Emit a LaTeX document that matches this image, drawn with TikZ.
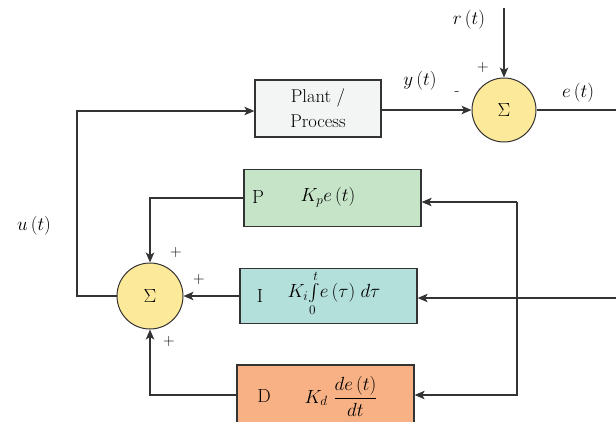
\documentclass[tikz,border=0pt]{standalone}
\usepackage{fix-cm}
\usepackage{exscale}
\usepackage{fontspec}
\usetikzlibrary{arrows.meta}
\definecolor{linec}{HTML}{333333}
\definecolor{plantc}{HTML}{F3F5F4}
\definecolor{sumc}{HTML}{FDE99A}
\definecolor{pc}{HTML}{C6E4C8}
\definecolor{ic}{HTML}{B4E0DC}
\definecolor{dc}{HTML}{F8B185}
\tikzset{
  blk/.style={draw=linec, line width=1.3pt, minimum width=#1, inner sep=0pt},
  sumnode/.style={circle, draw=linec, line width=1pt, fill=sumc, minimum size=64pt, inner sep=0pt},
  conn/.style={draw=linec, line width=1.1pt},
  arr/.style={conn, -{Stealth[length=10pt,width=8.5pt,inset=2.5pt]}},
  lbl/.style={font=\fontsize{19}{22}\selectfont, inner sep=0pt},
  sgn/.style={font=\fontsize{16}{18}\selectfont, inner sep=0pt}
}
\begin{document}
\begin{tikzpicture}[x=1pt,y=-1pt]
\useasboundingbox (0,0) rectangle (616,421);
\clip (0,0) rectangle (616,421);
\fill[white] (0,0) rectangle (616,421);

% nodes
\node[blk=126pt, minimum height=57pt, fill=plantc, align=center, font=\fontsize{18.5}{25}\selectfont] (plant) at (318,108.5) {Plant /\\Process};
\node[sumnode] (s1) at (504,110) {\fontsize{19}{21}\selectfont$\Sigma$};
\node[sumnode, minimum size=66pt] (s2) at (150,296) {\fontsize{19}{21}\selectfont$\Sigma$};

\node[blk=177pt, minimum height=57pt, fill=pc] (P) at (332.5,198) {};
\node[lbl] (Pl) at (258,197) {P};
\node[lbl] (Pf) at (328,197) {$K_p e\,(t)$};

\node[blk=177pt, minimum height=55pt, fill=ic] (I) at (328.5,296) {};
\node[lbl] (Il) at (260,296) {I};
\node[lbl] (If) at (334,293) {$K_i\!\int\limits_0^t\! e\,(\tau)\;d\tau$};

\node[blk=177pt, minimum height=80pt, fill=dc] (D) at (325.5,405) {};
\node[lbl] (Dl) at (264,396) {D};
\node[lbl] (Df) at (341,396) {$K_d\ \displaystyle\frac{de\,(t)}{dt}$};

% coordinates
\coordinate (rtop) at (504,8);
\coordinate (eend) at (630,110);
\coordinate (iin) at (630,298);
\coordinate (fbtop) at (517,202);
\coordinate (fbbot) at (517,395);
\coordinate (ul) at (77,296);
\coordinate (ut) at (77,111);
\coordinate (pc1) at (150,198);
\coordinate (dc1) at (150,395);

% labels
\node[lbl] (rl) at (469,20) {$r\,(t)$};
\node[lbl] (yl) at (420,81) {$y\,(t)$};
\node[lbl] (el) at (578,93) {$e\,(t)$};
\node[lbl] (ull) at (34,226) {$u\,(t)$};
\node[sgn] (sg1) at (483,68) {+};
\node[sgn] (sg2) at (457,94) {-};
\node[sgn] (sg3) at (176,253) {+};
\node[sgn] (sg4) at (199,280) {+};
\node[sgn] (sg5) at (169,342) {+};

% connectors
\draw[arr] (rtop) -- (s1.north);
\draw[arr] (plant.east |- s1.west) -- (s1.west);
\draw[conn] (s1.east) -- (eend);
\draw[arr] (iin) -- (I.east |- iin);
\draw[arr] (fbtop) -- (P.east |- fbtop);
\draw[arr] (fbtop) -- (fbbot) -- (D.east |- fbbot);
\draw[arr] (s2.west) -- (ul) -- (ut) -- (plant.west |- ut);
\draw[arr] (P.west |- pc1) -- (pc1) -- (s2.north);
\draw[arr] (I.west) -- (s2.east);
\draw[arr] (D.west |- dc1) -- (dc1) -- (s2.south);
\end{tikzpicture}
\end{document}
